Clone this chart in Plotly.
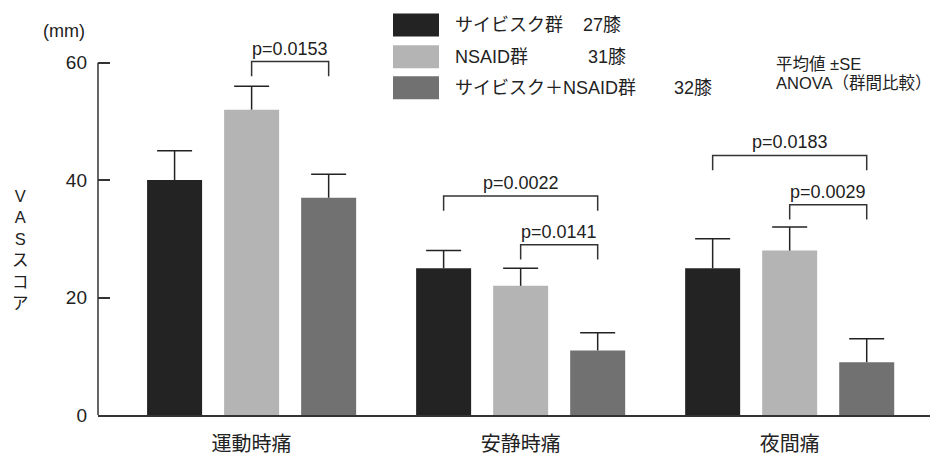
import plotly.graph_objects as go

# ---------------- data ----------------
categories = ["運動時痛", "安静時痛", "夜間痛"]
series_names = ["サイビスク群", "NSAID群", "サイビスク＋NSAID群"]
series_counts = ["27膝", "31膝", "32膝"]

hylan_mean = [40, 25, 25]
hylan_se = [5, 3, 5]
nsaid_mean = [52, 22, 28]
nsaid_se = [4, 3, 4]
combo_mean = [37, 11, 9]
combo_se = [4, 3, 4]

y_ticks = [0, 20, 40, 60]

# significance comparisons
comp_category = [0, 1, 1, 2, 2]
comp_from = [1, 0, 1, 0, 1]
comp_to = [2, 2, 2, 2, 2]
comp_p = ["p=0.0153", "p=0.0022", "p=0.0141", "p=0.0183", "p=0.0029"]
comp_level = [60.2, 37.3, 29.0, 44.2, 35.8]

notes = ["平均値 ±SE", "ANOVA（群間比較）"]
y_unit = "(mm)"
y_title = "VASスコア"

# ---------------- styling / geometry ----------------
# The page body has a default 8px margin, so the figure is drawn 8px
# smaller and all reference pixel positions are shifted accordingly.
PAGE_W, PAGE_H, BODY = 938, 454, 8
W, H = PAGE_W - BODY, PAGE_H - BODY
ML, MR, MT, MB = 98 - BODY, 6, 48 - BODY, 39
PW, PH = W - ML - MR, H - MT - MB
BARGAP, BARGROUPGAP = 0.141, 0.286
colors = ["#232323", "#b4b4b4", "#717171"]
INK = "#222222"
FONT = "Liberation Sans, Noto Sans CJK JP, sans-serif"
X_RANGE = [-0.571, 2.529]
Y_RANGE = [0, 62.5]
LEG = 2.5  # bracket leg length in data units

means = [hylan_mean, nsaid_mean, combo_mean]
ses = [hylan_se, nsaid_se, combo_se]
n = len(means)
xpos = list(range(len(categories)))
slot = (1 - BARGAP) / n
offsets = [(k - (n - 1) / 2) * slot for k in range(n)]


def px_x(px):  # page pixel -> paper x
    return (px - BODY - ML) / PW


def px_y(py):  # page pixel -> paper y
    return (H - MB - (py - BODY)) / PH


fig = go.Figure()
for k in range(n):
    fig.add_trace(go.Bar(
        x=xpos, y=means[k], name=series_names[k],
        marker=dict(color=colors[k], line=dict(width=0)),
        error_y=dict(type="data", symmetric=False, array=ses[k],
                     arrayminus=[0] * len(categories),
                     color=INK, thickness=1.5, width=0),
        showlegend=False,
    ))
# error bar caps
for k in range(n):
    fig.add_trace(go.Scatter(
        x=[x + offsets[k] for x in xpos],
        y=[m + s for m, s in zip(means[k], ses[k])],
        mode="markers",
        marker=dict(symbol="line-ew", size=25, color=INK,
                    line=dict(width=1.5, color=INK)),
        showlegend=False, hoverinfo="skip",
    ))

shapes = []
annotations = []

# y axis line (0..60)
shapes.append(dict(type="line", xref="paper", yref="y", x0=0, x1=0,
                   y0=y_ticks[0], y1=y_ticks[-1],
                   line=dict(color="#333333", width=1.5)))

# brackets
for c, a, b, p, lv in zip(comp_category, comp_from, comp_to, comp_p, comp_level):
    xa = xpos[c] + offsets[a]
    xb = xpos[c] + offsets[b]
    shapes.append(dict(type="path", xref="x", yref="y",
                       path=f"M {xa},{lv - LEG} L {xa},{lv} L {xb},{lv} L {xb},{lv - LEG}",
                       line=dict(color="#333333", width=1.5)))
    annotations.append(dict(x=(xa + xb) / 2, y=lv, xref="x", yref="y",
                            text=p, showarrow=False, yanchor="bottom",
                            yshift=1, font=dict(size=18, color=INK, family=FONT)))

# legend (manual)
row_y = [25, 56.7, 87.7]
count_x = [582, 587, 673]
for k in range(n):
    shapes.append(dict(type="rect", xref="paper", yref="paper",
                       x0=px_x(393), x1=px_x(439),
                       y0=px_y(row_y[k] + 11.5), y1=px_y(row_y[k] - 11.5),
                       fillcolor=colors[k], line=dict(width=0)))
    annotations.append(dict(x=px_x(453), y=px_y(row_y[k]), xref="paper", yref="paper",
                            text=series_names[k], showarrow=False,
                            xanchor="left", yanchor="middle",
                            font=dict(size=18, color=INK, family=FONT)))
    annotations.append(dict(x=px_x(count_x[k] - 1), y=px_y(row_y[k]), xref="paper", yref="paper",
                            text=series_counts[k], showarrow=False,
                            xanchor="left", yanchor="middle",
                            font=dict(size=18, color=INK, family=FONT)))

# notes
for i, t in enumerate(notes):
    annotations.append(dict(x=px_x(774), y=px_y(64 + 19 * i), xref="paper", yref="paper",
                            text=t, showarrow=False, xanchor="left", yanchor="middle",
                            font=dict(size=16.5, color=INK, family=FONT)))

# unit label
annotations.append(dict(x=px_x(64), y=px_y(31), xref="paper", yref="paper",
                        text=y_unit, showarrow=False, xanchor="center", yanchor="middle",
                        font=dict(size=18, color=INK, family=FONT)))
# vertical y title
annotations.append(dict(x=px_x(20), y=px_y(249), xref="paper", yref="paper",
                        text="<br>".join(list(y_title)), showarrow=False,
                        xanchor="center", yanchor="middle",
                        font=dict(size=16.5, color=INK, family=FONT)))

fig.update_layout(
    width=W, height=H,
    margin=dict(l=ML, r=MR, t=MT, b=MB, pad=0, autoexpand=False),
    paper_bgcolor="white", plot_bgcolor="white",
    barmode="group", bargap=BARGAP, bargroupgap=BARGROUPGAP,
    shapes=shapes, annotations=annotations,
    font=dict(family=FONT, color=INK),
    xaxis=dict(range=X_RANGE, tickvals=xpos, ticktext=categories,
               showgrid=False, zeroline=False, showline=True, automargin=False,
               linecolor="#333333", linewidth=1.5, ticks="",
               ticklabelstandoff=10,
               tickfont=dict(size=20, color=INK, family=FONT)),
    yaxis=dict(range=Y_RANGE, tickvals=y_ticks, showgrid=False, zeroline=False,
               showline=False, ticks="inside", ticklen=12, tickwidth=1.5,
               automargin=False,
               tickcolor="#333333", ticklabelstandoff=10,
               tickfont=dict(size=19, color=INK, family=FONT)),
)

fig.write_html("out.html")
